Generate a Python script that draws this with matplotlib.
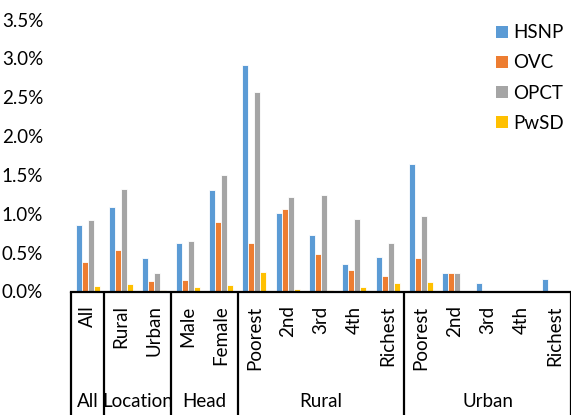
import numpy as np
import matplotlib.pyplot as plt
from matplotlib.lines import Line2D

plt.rcParams['font.family'] = ['Lato', 'DejaVu Sans']

# inner categories and outer groups
categories = ['All', 'Rural', 'Urban', 'Male', 'Female',
              'Poorest', '2nd', '3rd', '4th', 'Richest',
              'Poorest', '2nd', '3rd', '4th', 'Richest']
groups = ['All', 'Location', 'Head', 'Rural', 'Urban']
group_sizes = [1, 2, 2, 5, 5]

# values in percent
hsnp = [0.85, 1.09, 0.43, 0.63, 1.31, 2.92, 1.01, 0.73, 0.36, 0.44, 1.64, 0.24, 0.11, 0.0, 0.165]
ovc = [0.38, 0.53, 0.135, 0.15, 0.89, 0.62, 1.06, 0.48, 0.28, 0.20, 0.435, 0.24, 0.0, 0.0, 0.0]
opct = [0.92, 1.32, 0.24, 0.645, 1.50, 2.57, 1.21, 1.24, 0.93, 0.62, 0.97, 0.235, 0.0, 0.0, 0.0]
pwsd = [0.07, 0.10, 0.02, 0.06, 0.085, 0.25, 0.03, 0.02, 0.06, 0.11, 0.125, 0.0, 0.0, 0.0, 0.0]

series = [('HSNP', hsnp, '#5B9BD5'), ('OVC', ovc, '#ED7D31'),
          ('OPCT', opct, '#A5A5A5'), ('PwSD', pwsd, '#FFC000')]

fig = plt.figure(figsize=(5.71, 4.15), dpi=100)
ax = fig.add_axes([71/571, (415-291.5)/415, 500/571, (291.5-19.5)/415])

x = np.arange(len(categories))
step = 0.18
for k, (name, vals, col) in enumerate(series):
    ax.bar(x + (k-1.5)*step, vals, width=step, color=col,
           edgecolor='white', linewidth=0.6, label=name)

ax.set_xlim(-0.5, len(categories)-0.5)
ax.set_ylim(0, 3.5)
ax.set_yticks(np.arange(0, 3.51, 0.5))
ax.set_yticklabels(['%.1f%%' % v for v in np.arange(0, 3.51, 0.5)], fontsize=13.5)
ax.tick_params(axis='y', length=0, pad=20)
ax.set_xticks([])
for s in ['left', 'right', 'top']:
    ax.spines[s].set_visible(False)
ax.spines['bottom'].set_linewidth(1.6)
ax.spines['bottom'].set_color('black')

trans = ax.get_xaxis_transform()
# inner labels
for i, lab in enumerate(categories):
    ax.annotate(lab, xy=(i, 0), xycoords=trans, xytext=(0, -10),
                textcoords='offset points', rotation=90, ha='center', va='top',
                fontsize=13.5)

# group separators and outer labels
bounds = np.concatenate([[0], np.cumsum(group_sizes)]) - 0.5
for b in bounds:
    ax.plot([b, b], [0, -0.46], color='black', lw=1.6, transform=trans,
            clip_on=False, solid_capstyle='butt')
for g, lo, hi in zip(groups, bounds[:-1], bounds[1:]):
    ax.annotate(g, xy=((lo+hi)/2, 0), xycoords=trans, xytext=(0, -79),
                textcoords='offset points', ha='center', va='center',
                fontsize=13.5)

handles = [Line2D([], [], marker='s', linestyle='none', markersize=8.6,
                  markeredgewidth=0, color=c, label=n) for n, v, c in series]
ax.legend(handles=handles, loc='upper right', bbox_to_anchor=(1.0, 1.01),
          frameon=False, fontsize=13.5, handlelength=0.7,
          handletextpad=0.25, labelspacing=0.7, borderaxespad=0)

fig.savefig('out.png', dpi=100)
